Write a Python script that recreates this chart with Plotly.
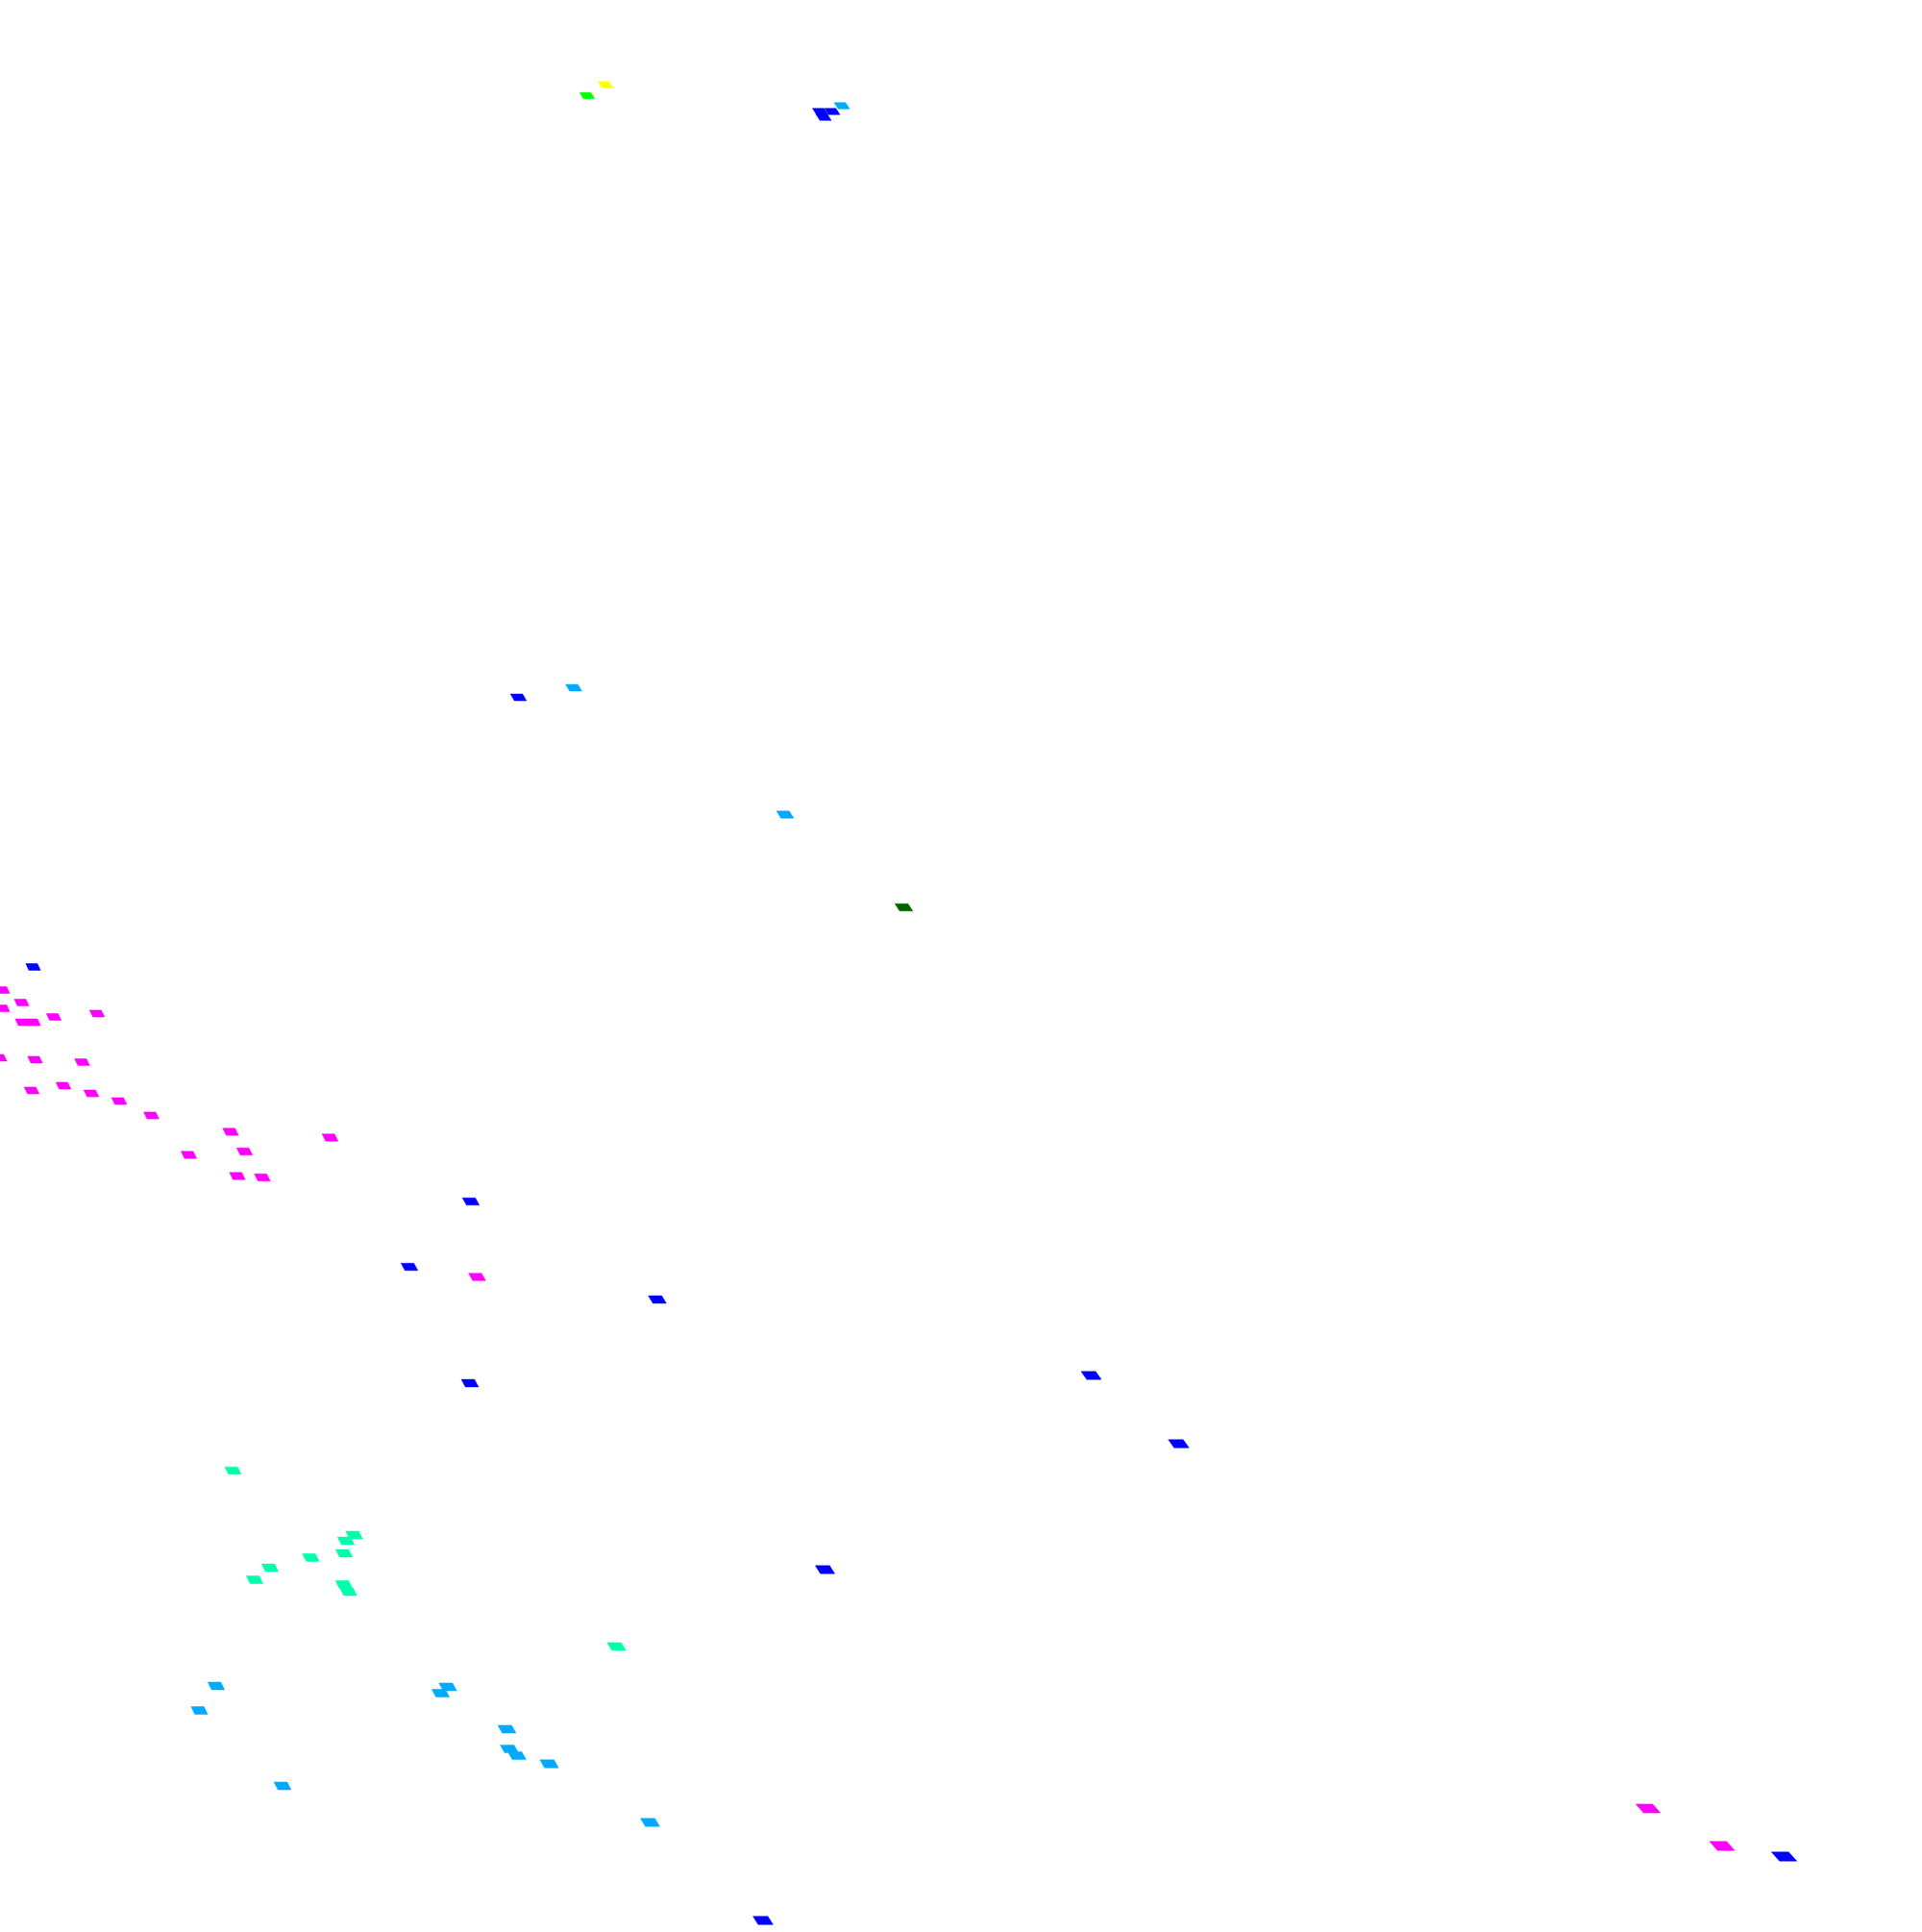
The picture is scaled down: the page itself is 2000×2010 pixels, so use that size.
import plotly.graph_objects as go

# # Data: centre positions of each tile, grouped by colour class
# -----------------------------------------------------|
yellow_x = [630]
yellow_y = [88]

lime_x = [611]
lime_y = [99.5]

darkgreen_x = [940.5]
darkgreen_y = [944]

azure_x = [876, 597, 817, 225, 207.5, 466, 458.5, 527.5, 530, 538, 571.5,
           294, 676.5]
azure_y = [110, 715.5, 847.5, 1754, 1779.5, 1755, 1761.5, 1799, 1819.5,
           1826.5, 1835, 1858, 1896]

blue_x = [853.5, 857, 866, 539.5, 34.5, 490, 426, 684, 489, 1135.5, 1226.5,
          858.5, 794, 1856.5]
blue_y = [116, 122, 116, 725.5, 1006, 1250, 1318, 1352, 1439, 1431, 1502,
          1633, 1998, 1931.5]

spring_x = [242.5, 368.5, 360, 358, 323.5, 281, 265, 358, 362.5, 641.5]
spring_y = [1530, 1597, 1603, 1616, 1620.5, 1631, 1643.5, 1648.5, 1656, 1713]

magenta_x = [2.5, 22.5, 2.5, 56, 101, 23.5, 34.5, -0.5, 36.5, 85.5, 33, 66,
             95, 124, 157.5, 240, 343.5, 196.5, 254.5, 247, 273, 496.5,
             1715, 1792]
magenta_y = [1030, 1043, 1049, 1058, 1054.5, 1063.5, 1063.5, 1100.5, 1102.5,
             1105, 1134.5, 1129.5, 1137.5, 1145.5, 1160.5, 1177.5, 1183.5,
             1201.5, 1198, 1223.5, 1225, 1328.5, 1881.5, 1920.5]

groups = [
    ('blue', blue_x, blue_y, '#0000FF'),
    ('azure', azure_x, azure_y, '#00AAFF'),
    ('spring', spring_x, spring_y, '#00FFAA'),
    ('magenta', magenta_x, magenta_y, '#FF00FF'),
    ('lime', lime_x, lime_y, '#00FF00'),
    ('yellow', yellow_x, yellow_y, '#FFFF00'),
    ('darkgreen', darkgreen_x, darkgreen_y, '#006400'),
]


def tile_outline(xs, ys):
    """Return slanted tile outlines (tiles grow toward the lower right)."""
    px, py = [], []
    for cx, cy in zip(xs, ys):
        w = 14 + 0.002 * cx + 0.0012 * cy + 1.8e-6 * cx * cy
        h = 5.8 + 0.0008 * cx + 0.0011 * cy
        off = w * (0.21 + 0.00006 * cx)
        left, top, bot = cx - w / 2, cy - h / 2, cy + h / 2
        px += [left, left + w - off, cx + w / 2, left + off, left, None]
        py += [top, top, bot, bot, top, None]
    return px, py


fig = go.Figure()
for name, xs, ys, color in groups:
    px, py = tile_outline(xs, ys)
    fig.add_trace(go.Scatter(
        x=px, y=py, mode='lines', fill='toself', name=name,
        fillcolor=color, line=dict(color=color, width=0.5),
        hoverinfo='skip', showlegend=False,
    ))

fig.update_layout(
    width=2000, height=2010,
    margin=dict(l=0, r=0, t=0, b=0),
    paper_bgcolor='white', plot_bgcolor='white',
    xaxis=dict(range=[0, 2000], visible=False),
    yaxis=dict(range=[2010, 0], visible=False),
)

# drop the default body margin so the plot sits flush with the page edge
fig.write_html("out.html", config={'displayModeBar': False},
               post_script="document.body.style.margin = '0';")
